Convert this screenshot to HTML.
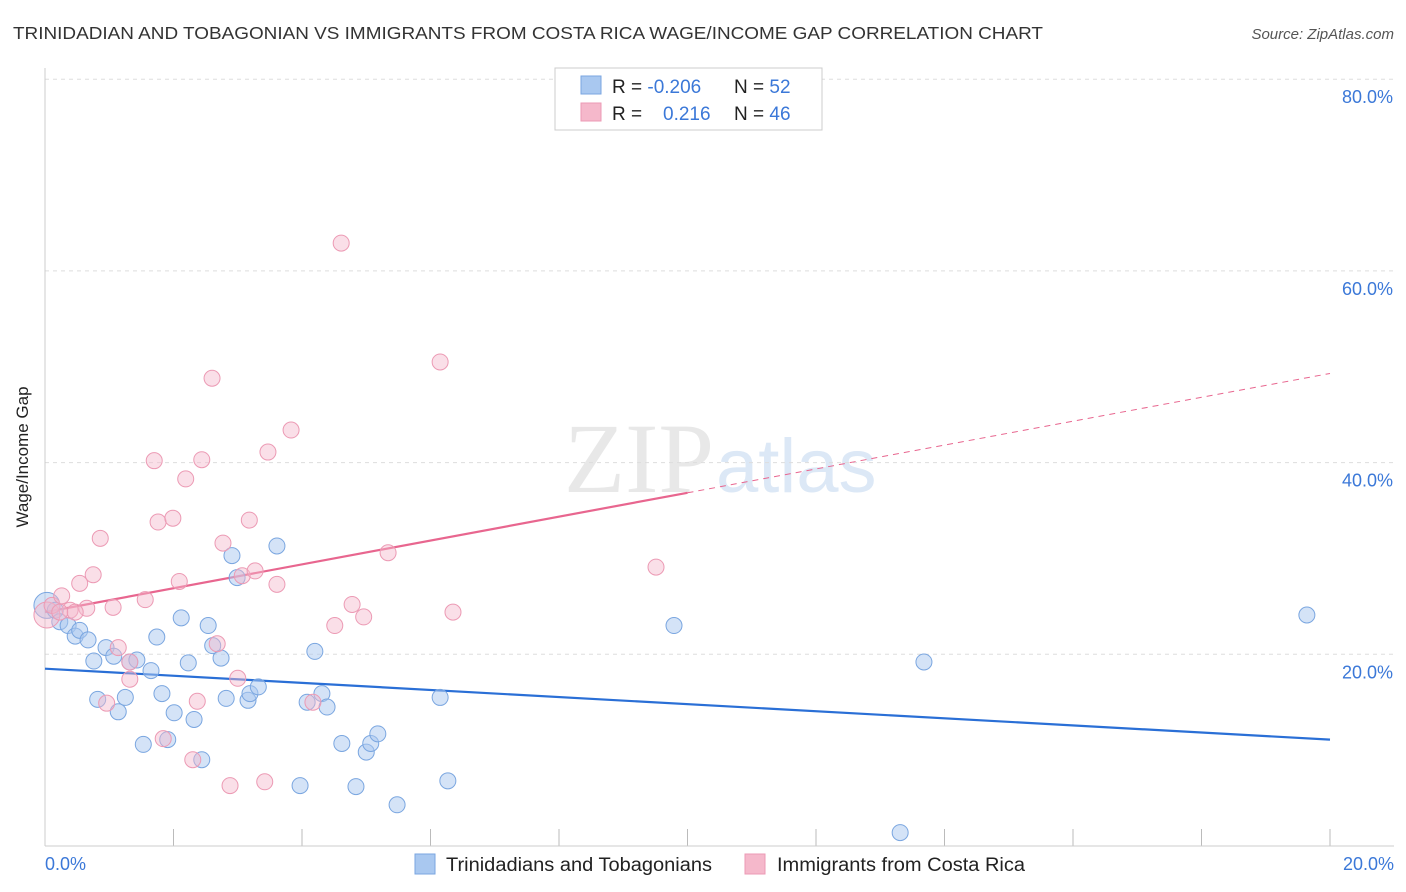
<!DOCTYPE html>
<html><head><meta charset="utf-8"><style>
body{margin:0;background:#fff;font-family:"Liberation Sans",sans-serif;}
svg{display:block}
</style></head><body>
<svg width="1406" height="892" id="chart">
<text x="13" y="39" font-size="17.5" fill="#333" textLength="1030" lengthAdjust="spacingAndGlyphs">TRINIDADIAN AND TOBAGONIAN VS IMMIGRANTS FROM COSTA RICA WAGE/INCOME GAP CORRELATION CHART</text>
<text x="1394" y="39" font-size="15" fill="#555" font-style="italic" text-anchor="end">Source: ZipAtlas.com</text>
<text x="714" y="492" font-size="100" fill="#e8e8e8" font-family="Liberation Serif,serif" text-anchor="end">ZIP</text>
<text x="716" y="492" font-size="76" fill="#dce8f6">atlas</text>
<g id="grid"></g>
<line x1="45" y1="68" x2="45" y2="846" stroke="#ccc"/>
<line x1="45" y1="846" x2="1394" y2="846" stroke="#ccc"/>
<text x="28" y="457" font-size="17" fill="#222" transform="rotate(-90 28 457)" text-anchor="middle">Wage/Income Gap</text>
<text x="45" y="870" font-size="18" fill="#3b78d8">0.0%</text>
<text x="1394" y="870" font-size="18" fill="#3b78d8" text-anchor="end">20.0%</text>
<g id="lines"></g>
<g id="pts"></g>
<g>
<rect x="555" y="68" width="267" height="62" fill="#fff" stroke="#ccc"/>
<rect x="581" y="76" width="20" height="18" fill="#a9c8f0" stroke="#7aa6e0"/>
<rect x="581" y="103" width="20" height="18" fill="#f5b8cb" stroke="#ec9ab4"/>
<text x="612" y="93" font-size="19" fill="#222">R = <tspan fill="#3b78d8">-0.206</tspan><tspan x="734">N = </tspan><tspan fill="#3b78d8">52</tspan></text>
<text x="612" y="120" font-size="19" fill="#222">R = <tspan x="663" fill="#3b78d8">0.216</tspan><tspan x="734">N = </tspan><tspan fill="#3b78d8">46</tspan></text>
</g>
<g>
<rect x="415" y="854" width="20" height="20" fill="#a9c8f0" stroke="#7aa6e0"/>
<text x="446" y="871" font-size="19" fill="#222" textLength="266" lengthAdjust="spacingAndGlyphs">Trinidadians and Tobagonians</text>
<rect x="745" y="854" width="20" height="20" fill="#f5b8cb" stroke="#ec9ab4"/>
<text x="777" y="871" font-size="19" fill="#222" textLength="248" lengthAdjust="spacingAndGlyphs">Immigrants from Costa Rica</text>
</g>
</svg>
<script>
const yTicks=[20,40,60,80];
const yTickLabels=["20.0%","40.0%","60.0%","80.0%"];
const xTicks=[0,2,4,6,8,10,12,14,16,18,20];
const blueX=[0.03,0.16,0.23,0.36,0.47,0.54,0.67,0.76,0.95,1.07,0.82,1.14,1.25,1.32,1.43,1.53,1.65,1.74,1.82,1.91,2.01,2.12,2.23,2.32,2.44,2.54,2.61,2.74,2.82,2.91,2.99,3.16,3.19,3.32,3.61,3.97,4.08,4.20,4.31,4.39,4.62,4.84,5.00,5.07,5.18,5.48,6.15,6.27,9.79,13.31,13.68,19.64];
const blueY=[25.1,24.6,23.4,23.0,21.9,22.5,21.5,19.3,20.7,19.8,15.3,14.0,15.5,19.2,19.4,10.6,18.3,21.8,15.9,11.1,13.9,23.8,19.1,13.2,9.0,23.0,20.9,19.6,15.4,30.3,28.0,15.2,15.9,16.6,31.3,6.3,15.0,20.3,15.9,14.5,10.7,6.2,9.8,10.7,11.7,4.3,15.5,6.8,23.0,1.4,19.2,24.1];
const pinkX=[0.03,0.11,0.26,0.39,0.54,0.65,0.75,0.86,0.96,1.06,1.14,1.32,1.32,1.56,1.70,1.76,1.84,1.99,2.09,2.19,2.30,2.37,2.44,2.60,2.68,2.77,2.88,3.00,3.07,3.18,3.27,3.42,3.47,3.61,3.83,4.17,4.51,4.61,4.78,4.96,5.34,6.15,6.35,9.51,0.23,0.47];
const pinkY=[24.1,25.1,26.1,24.6,27.4,24.8,28.3,32.1,14.9,24.9,20.7,17.4,19.2,25.7,40.2,33.8,11.2,34.2,27.6,38.3,9.0,15.1,40.3,48.8,21.1,31.6,6.3,17.5,28.2,34.0,28.7,6.7,41.1,27.3,43.4,15.0,23.0,62.9,25.2,23.9,30.6,50.5,24.4,29.1,24.4,24.4];
const blueTrend=[18.5,11.1];
const pinkTrend=[24.4,49.3];
const NS="http://www.w3.org/2000/svg";
const sx=v=>45+v/20*1285;
const sy=v=>846-v/20*191.7;
function mk(tag,attrs,parent){const e=document.createElementNS(NS,tag);for(const k in attrs)e.setAttribute(k,attrs[k]);document.getElementById(parent).appendChild(e);return e;}
yTicks.forEach((t,i)=>{
  const l=mk('line',{x1:45,x2:1394,y1:sy(t),y2:sy(t),stroke:'#ddd','stroke-dasharray':'4,4'},'grid');
  
  
  const tx=mk('text',{x:1393,y:sy(t)+24,'font-size':18,fill:'#3b78d8','text-anchor':'end'},'grid');
  tx.textContent=yTickLabels[i];
  
  
});
xTicks.forEach(t=>{
  const l=mk('line',{x1:sx(t),x2:sx(t),y1:829,y2:846,stroke:'#bbb'},'grid');
  
  
});
const bl=mk('line',{x1:sx(0),y1:sy(blueTrend[0]),x2:sx(20),y2:sy(blueTrend[1]),stroke:'#2a6fd6','stroke-width':2.2},'lines');


const pm=pinkTrend[0]+(pinkTrend[1]-pinkTrend[0])*0.5;
const pl=mk('line',{x1:sx(0),y1:sy(pinkTrend[0]),x2:sx(10),y2:sy(pm),stroke:'#e8668f','stroke-width':2.2},'lines');


const pd=mk('line',{x1:sx(10),y1:sy(pm),x2:sx(20),y2:sy(pinkTrend[1]),stroke:'#e8668f','stroke-width':1,'stroke-dasharray':'6,5'},'lines');


blueX.forEach((x,i)=>{
  const c=mk('circle',{cx:sx(x),cy:sy(blueY[i]),r:i===0?13:8,fill:'#a9c8f0','fill-opacity':0.5,stroke:'#7aa6e0','stroke-width':1},'pts');
  
  
});
pinkX.forEach((x,i)=>{
  const c=mk('circle',{cx:sx(x),cy:sy(pinkY[i]),r:i===0?13:8,fill:'#f5b8cb','fill-opacity':0.45,stroke:'#ec9ab4','stroke-width':1},'pts');
  
  
});
</script>
</body></html>
